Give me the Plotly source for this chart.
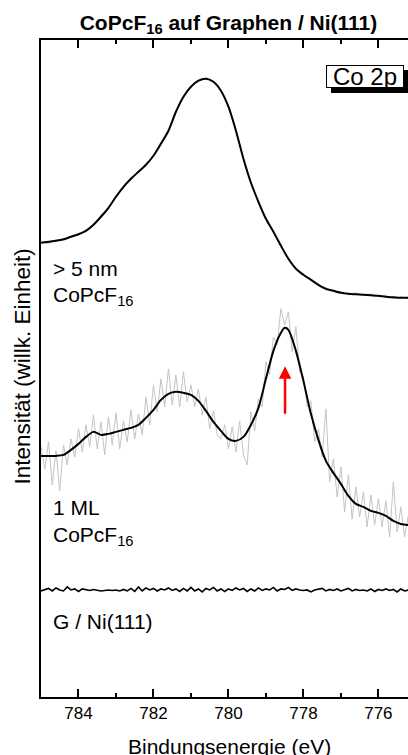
import numpy as np
import plotly.graph_objects as go

# ---------------- data ----------------
# binding-energy grids (eV)
energy_fine = np.round(np.arange(785.0, 775.15, -0.1), 1)     # 99 points
energy_coarse = np.round(np.arange(785.0, 775.15, -0.2), 1)   # 50 points

# > 5 nm CoPcF16 : smoothed (black) and raw (grey), arbitrary units
thick_smooth = [454, 455, 456, 457.5, 460, 462.5, 466, 472, 480, 489, 500,
                510, 518, 525, 532, 541, 553, 566, 585, 600, 610,
                616, 618, 615, 606, 590, 566, 538, 514, 495, 478,
                465, 451, 438, 428, 422, 417, 412, 408, 406, 404,
                403, 402.5, 402, 401.5, 401, 400, 399.5, 399, 399]
thick_raw = [455, 453, 457, 456, 461, 461.5, 467, 471, 482, 488, 501,
             509, 519, 524, 533, 540, 555, 565, 586, 599, 611,
             615, 619, 614, 607, 589, 567, 537, 515, 494, 479,
             464, 452, 437, 429, 421, 418, 411, 409, 405, 405,
             402, 404, 401, 403, 400, 401, 398, 400, 398]

# 1 ML CoPcF16
ml_energy_smooth = [785.0, 784.8, 784.6, 784.4, 784.2, 784.0, 783.8, 783.6, 783.4, 783.2,
                    783.0, 782.8, 782.6, 782.4, 782.2, 782.0, 781.8, 781.6, 781.4, 781.2,
                    781.0, 780.8, 780.6, 780.4, 780.2, 780.0, 779.8, 779.6, 779.4, 779.2,
                    779.0, 778.8, 778.6, 778.5, 778.4, 778.2, 778.0, 777.8, 777.6, 777.4,
                    777.2, 777.0, 776.8, 776.6, 776.4, 776.2, 776.0, 775.8, 775.6, 775.4, 775.2]
ml_smooth = [241, 241, 241, 242, 247, 253, 260, 265, 262, 263,
             265, 267, 269, 272, 279, 287, 297, 303, 305, 304,
             302, 296, 286, 275, 266, 258, 256, 260, 272, 289,
             318, 346, 364, 369, 367, 346, 316, 283, 257, 236,
             224, 213, 201, 193, 190, 186, 184, 181, 176, 173, 172]
ml_raw = [250, 228, 255, 212, 246, 206, 252, 232, 258, 240,
          268, 245, 272, 250, 282, 248, 275, 242, 280, 252,
          284, 248, 276, 255, 287, 258, 283, 262, 300, 272,
          312, 285, 318, 290, 328, 292, 322, 290, 325, 295,
          312, 290, 308, 282, 300, 268, 286, 262, 258, 272,
          248, 270, 245, 276, 242, 232, 285, 266, 298, 290,
          335, 322, 360, 352, 388, 372, 385, 345, 370, 325,
          320, 290, 296, 255, 268, 240, 288, 215, 238, 200,
          230, 185, 222, 178, 210, 180, 205, 170, 202, 172,
          198, 170, 196, 160, 215, 165, 190, 160, 182]

# G / Ni(111) reference
gni = [106, 107, 108.5, 106, 109, 107, 106, 110, 107, 108,
       105.5, 108, 107, 106.5, 107.5, 107, 106, 106.5, 107, 106.5,
       107, 106, 107.5, 106, 108.5, 105.5, 110, 106, 109, 107,
       108.5, 106, 108, 107, 109, 106.5, 108, 105.5, 108.5, 106,
       109.5, 106, 108, 105, 108.5, 107, 109.5, 106, 108, 105.5,
       108, 106.5, 109, 107, 108.5, 105.5, 108, 106, 109, 106.5,
       108, 107, 109.5, 106, 108, 107.5, 109.5, 106.5, 108, 107,
       106.5, 107, 105, 107, 107.5, 108.5, 106, 107.5, 106.5, 108,
       106, 107.5, 108.5, 106, 107.5, 106.5, 107, 106, 108, 105.5,
       107.5, 106.5, 108, 106.5, 107.5, 105, 108, 106, 107]

x_ticks = [784, 782, 780, 778, 776]
x_minor = [783, 781, 779, 777]
arrow_energy = 778.49
arrow_from, arrow_to = 281.7, 330.7

FONT = "Liberation Sans, Arial, sans-serif"

fig = go.Figure()
grey = "#c4c4c4"
fig.add_trace(go.Scatter(x=energy_coarse, y=thick_raw, mode="lines",
                         line=dict(color=grey, width=1), hoverinfo="skip"))
fig.add_trace(go.Scatter(x=energy_coarse, y=thick_smooth, mode="lines",
                         line=dict(color="black", width=2, shape="spline", smoothing=0.8),
                         hoverinfo="skip"))
fig.add_trace(go.Scatter(x=energy_fine, y=ml_raw, mode="lines",
                         line=dict(color=grey, width=1), hoverinfo="skip"))
fig.add_trace(go.Scatter(x=ml_energy_smooth, y=ml_smooth, mode="lines",
                         line=dict(color="black", width=2, shape="spline", smoothing=0.8),
                         hoverinfo="skip"))
fig.add_trace(go.Scatter(x=energy_fine, y=gni, mode="lines",
                         line=dict(color="black", width=1.6), hoverinfo="skip"))

W, H = 408, 755
L, R, T, B = 41, 0, 40, 58
pw, ph = W - L - R, H - T - B


def px(xp):
    return (xp - L) / pw


def py(yp):
    return (H - B - yp) / ph


LBL = dict(size=21, family=FONT, color="black")
annotations = [
    dict(text="Bindungsenergie (eV)", x=px(229), y=py(746), xref="paper", yref="paper",
         showarrow=False, font=dict(size=21, family=FONT, color="black"),
         xanchor="center", yanchor="middle"),
    dict(text="Intensität (willk. Einheit)", x=px(22), y=py(366.5), xref="paper", yref="paper",
         showarrow=False, textangle=-90, font=dict(size=22.5, family=FONT, color="black"),
         xanchor="center", yanchor="middle"),
    dict(text="> 5 nm", x=px(51), y=py(268), xref="paper", yref="paper", showarrow=False,
         font=LBL, xanchor="left", yanchor="middle"),
    dict(text="CoPcF<sub>16</sub>", x=px(51), y=py(296), xref="paper", yref="paper", showarrow=False,
         font=LBL, xanchor="left", yanchor="middle"),
    dict(text="1 ML", x=px(51), y=py(507), xref="paper", yref="paper", showarrow=False,
         font=LBL, xanchor="left", yanchor="middle"),
    dict(text="CoPcF<sub>16</sub>", x=px(51), y=py(536), xref="paper", yref="paper", showarrow=False,
         font=LBL, xanchor="left", yanchor="middle"),
    dict(text="G / Ni(111)", x=px(51), y=py(621), xref="paper", yref="paper", showarrow=False,
         font=LBL, xanchor="left", yanchor="middle"),
    dict(text="Co 2p", x=px(365), y=py(76.5), xref="paper", yref="paper", showarrow=False,
         font=dict(size=24, family=FONT, color="black"), xanchor="center", yanchor="middle",
         width=76, height=21, align="center",
         bgcolor="white", bordercolor="black", borderwidth=1, borderpad=0),
    dict(text="", x=arrow_energy, y=arrow_to, ax=arrow_energy, ay=arrow_from,
         xref="x", yref="y", axref="x", ayref="y", showarrow=True,
         arrowhead=2, arrowsize=1, arrowwidth=2.5, arrowcolor="red", standoff=0),
]

shapes = [
    dict(type="rect", xref="paper", yref="paper", x0=px(331), x1=px(410), y0=py(93), y1=py(70),
         fillcolor="black", line=dict(width=0)),
]

fig.update_layout(
    width=W, height=H,
    margin=dict(l=L, r=R, t=T, b=B),
    paper_bgcolor="white", plot_bgcolor="white",
    showlegend=False,
    font=dict(family=FONT, color="black"),
    title=dict(text="<b>CoPcF<sub>16</sub> auf Graphen / Ni(111)</b>",
               x=228.5 / W, xanchor="center", y=1 - 22.5 / H, yanchor="middle",
               font=dict(size=21, family=FONT, color="black")),
    xaxis=dict(range=[785.0, 775.21], tickvals=x_ticks, ticktext=[str(v) for v in x_ticks],
               ticks="inside", ticklen=8, tickwidth=1.5, tickcolor="black",
               showline=True, linecolor="black", linewidth=2, mirror="allticks",
               showgrid=False, zeroline=False,
               tickfont=dict(size=17, family=FONT, color="black"),
               minor=dict(tickvals=x_minor, ticks="inside", ticklen=4, tickwidth=1.5,
                          tickcolor="black", showgrid=False)),
    yaxis=dict(range=[0, 656.7], showline=True, linecolor="black", linewidth=2,
               ticks="", showticklabels=False, showgrid=False, zeroline=False),
    annotations=annotations,
    shapes=shapes,
)

fig.write_html("out.html", config={"displayModeBar": False},
               post_script="document.body.style.margin='0';document.body.style.overflow='hidden';")
